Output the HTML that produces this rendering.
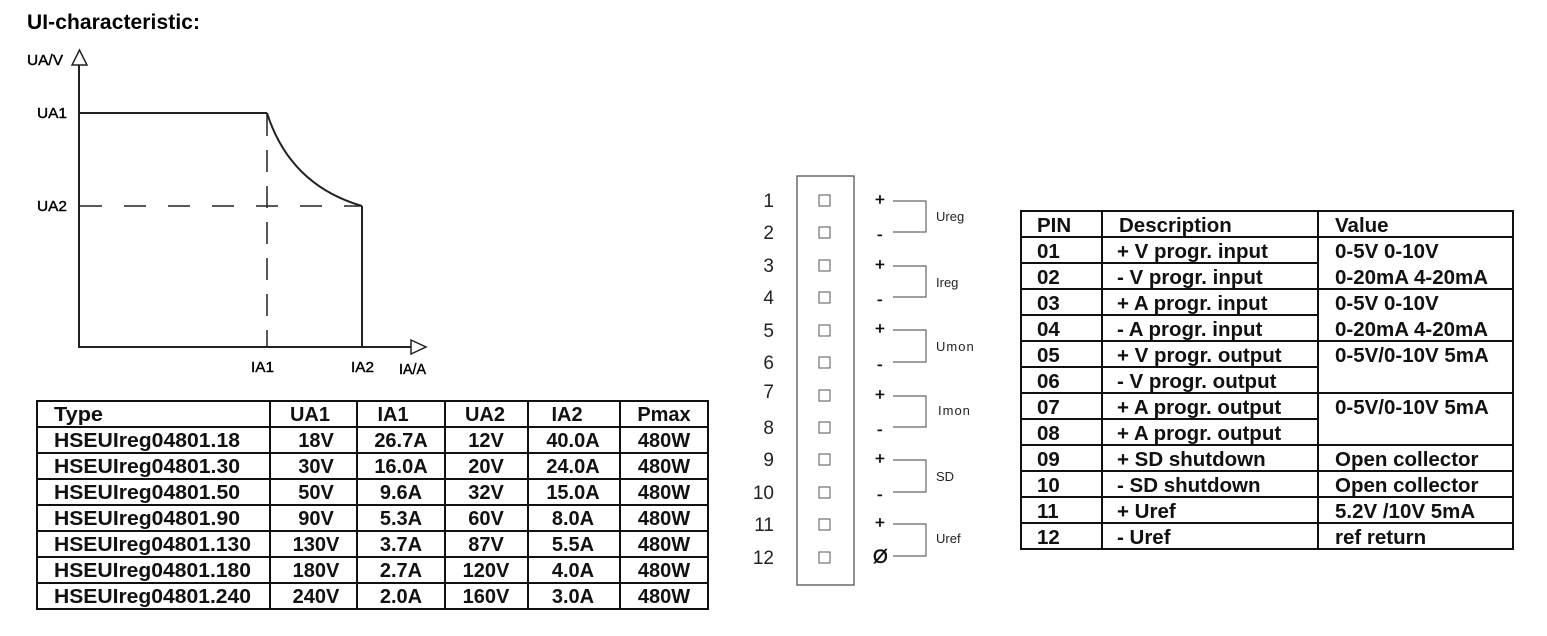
<!DOCTYPE html>
<html><head><meta charset="utf-8"><style>
html,body{margin:0;padding:0;background:#fff;}
svg{display:block;font-family:"Liberation Sans",Arial,sans-serif;}
.b{font-weight:bold;}
</style></head><body>
<svg width="1547" height="636" viewBox="0 0 1547 636" xmlns="http://www.w3.org/2000/svg" xml:space="preserve">
<text x="27" y="29" class="b" font-size="21" textLength="173">UI-characteristic:</text>

<!-- chart -->
<g stroke="#222" stroke-width="2" fill="none">
<line x1="79" y1="64" x2="79" y2="348"/>
<polygon points="72,65 87,65 79.5,50" fill="#fff" stroke-width="1.5"/>
<line x1="78" y1="347" x2="411" y2="347"/>
<polygon points="411,340 411,354 426,347" fill="#fff" stroke-width="1.5"/>
<line x1="79" y1="113" x2="267" y2="113"/>
<path d="M267,113 Q290,185 362,206"/>
<line x1="362" y1="206" x2="362" y2="347"/>
<line x1="80" y1="206" x2="362" y2="206" stroke-dasharray="22,22" stroke-width="1.5"/>
<line x1="267" y1="114" x2="267" y2="347" stroke-dasharray="22,14" stroke-width="1.5"/>
</g>
<g font-size="15" fill="#000" stroke="#000" stroke-width="0.4">
<text x="27" y="65" textLength="36" lengthAdjust="spacingAndGlyphs">UA/V</text>
<text x="37" y="118" textLength="30" lengthAdjust="spacingAndGlyphs">UA1</text>
<text x="37" y="211" textLength="30" lengthAdjust="spacingAndGlyphs">UA2</text>
<text x="251" y="372" textLength="23" lengthAdjust="spacingAndGlyphs">IA1</text>
<text x="351" y="372" textLength="23" lengthAdjust="spacingAndGlyphs">IA2</text>
<text x="399" y="374" textLength="27" lengthAdjust="spacingAndGlyphs">IA/A</text>
</g>

<!-- type table -->
<g stroke="#111" stroke-width="2" fill="none">
<rect x="37" y="401" width="671" height="208"/>
<line x1="270" y1="401" x2="270" y2="609"/>
<line x1="357" y1="401" x2="357" y2="609"/>
<line x1="445" y1="401" x2="445" y2="609"/>
<line x1="528" y1="401" x2="528" y2="609"/>
<line x1="620" y1="401" x2="620" y2="609"/>
<line x1="37" y1="427" x2="708" y2="427"/>
<line x1="37" y1="453" x2="708" y2="453"/>
<line x1="37" y1="479" x2="708" y2="479"/>
<line x1="37" y1="505" x2="708" y2="505"/>
<line x1="37" y1="531" x2="708" y2="531"/>
<line x1="37" y1="557" x2="708" y2="557"/>
<line x1="37" y1="583" x2="708" y2="583"/>
</g>
<g class="b" font-size="20" fill="#111">
<text x="54" y="421" textLength="49" lengthAdjust="spacingAndGlyphs">Type</text>
<text x="54" y="447" textLength="186" lengthAdjust="spacingAndGlyphs">HSEUIreg04801.18</text>
<text x="54" y="473" textLength="186" lengthAdjust="spacingAndGlyphs">HSEUIreg04801.30</text>
<text x="54" y="499" textLength="186" lengthAdjust="spacingAndGlyphs">HSEUIreg04801.50</text>
<text x="54" y="525" textLength="186" lengthAdjust="spacingAndGlyphs">HSEUIreg04801.90</text>
<text x="54" y="551" textLength="197" lengthAdjust="spacingAndGlyphs">HSEUIreg04801.130</text>
<text x="54" y="577" textLength="197" lengthAdjust="spacingAndGlyphs">HSEUIreg04801.180</text>
<text x="54" y="603" textLength="197" lengthAdjust="spacingAndGlyphs">HSEUIreg04801.240</text>
</g>
<g class="b" font-size="20" fill="#111" text-anchor="middle">
<text x="310" y="421">UA1</text><text x="393" y="421" >IA1</text><text x="485" y="421">UA2</text><text x="567" y="421">IA2</text><text x="664" y="421">Pmax</text>
<text x="316" y="447">18V</text><text x="401" y="447">26.7A</text><text x="486" y="447">12V</text><text x="573" y="447">40.0A</text><text x="664" y="447">480W</text>
<text x="316" y="473">30V</text><text x="401" y="473">16.0A</text><text x="486" y="473">20V</text><text x="573" y="473">24.0A</text><text x="664" y="473">480W</text>
<text x="316" y="499">50V</text><text x="401" y="499">9.6A</text><text x="486" y="499">32V</text><text x="573" y="499">15.0A</text><text x="664" y="499">480W</text>
<text x="316" y="525">90V</text><text x="401" y="525">5.3A</text><text x="486" y="525">60V</text><text x="573" y="525">8.0A</text><text x="664" y="525">480W</text>
<text x="316" y="551">130V</text><text x="401" y="551">3.7A</text><text x="486" y="551">87V</text><text x="573" y="551">5.5A</text><text x="664" y="551">480W</text>
<text x="316" y="577">180V</text><text x="401" y="577">2.7A</text><text x="486" y="577">120V</text><text x="573" y="577">4.0A</text><text x="664" y="577">480W</text>
<text x="316" y="603">240V</text><text x="401" y="603">2.0A</text><text x="486" y="603">160V</text><text x="573" y="603">3.0A</text><text x="664" y="603">480W</text>
</g>

<!-- connector -->
<rect x="797" y="176" width="57" height="409" fill="none" stroke="#555" stroke-width="1.3"/>
<g fill="none" stroke="#555" stroke-width="1">
<rect x="819" y="195" width="11" height="11"/><rect x="819" y="227" width="11" height="11"/>
<rect x="819" y="260" width="11" height="11"/><rect x="819" y="292" width="11" height="11"/>
<rect x="819" y="325" width="11" height="11"/><rect x="819" y="357" width="11" height="11"/>
<rect x="819" y="390" width="11" height="11"/><rect x="819" y="422" width="11" height="11"/>
<rect x="819" y="454" width="11" height="11"/><rect x="819" y="487" width="11" height="11"/>
<rect x="819" y="519" width="11" height="11"/><rect x="819" y="552" width="11" height="11"/>
</g>
<g font-size="19" fill="#222" text-anchor="end">
<text x="774" y="207">1</text><text x="774" y="239">2</text><text x="774" y="272">3</text><text x="774" y="304">4</text>
<text x="774" y="337">5</text><text x="774" y="369">6</text><text x="774" y="398">7</text><text x="774" y="434">8</text>
<text x="774" y="466">9</text><text x="774" y="499">10</text><text x="774" y="531">11</text><text x="774" y="564">12</text>
</g>
<g fill="none" stroke="#666" stroke-width="1.2">
<polyline points="893,201 926,201 926,232 893,232"/>
<polyline points="893,266 926,266 926,297 893,297"/>
<polyline points="893,330 926,330 926,362 893,362"/>
<polyline points="893,396 926,396 926,427 893,427"/>
<polyline points="893,460 926,460 926,492 893,492"/>
<polyline points="893,524 926,524 926,556 893,556"/>
</g>
<g font-size="17" fill="#111" stroke="#111" stroke-width="0.5">
<text x="875" y="205">+</text><text x="877" y="240">-</text>
<text x="875" y="270">+</text><text x="877" y="305">-</text>
<text x="875" y="334">+</text><text x="877" y="370">-</text>
<text x="875" y="400">+</text><text x="877" y="435">-</text>
<text x="875" y="464">+</text><text x="877" y="500">-</text>
<text x="875" y="528">+</text><text x="873" y="563" font-size="19">Ø</text>
</g>
<g font-size="13" fill="#222">
<text x="936" y="221">Ureg</text>
<text x="936" y="287">Ireg</text>
<text x="936" y="351" letter-spacing="1">Umon</text>
<text x="938" y="415" letter-spacing="1">Imon</text>
<text x="936" y="481">SD</text>
<text x="936" y="543">Uref</text>
</g>

<!-- pin table -->
<g stroke="#111" stroke-width="2" fill="none">
<rect x="1021" y="211" width="492" height="338"/>
<line x1="1102" y1="211" x2="1102" y2="549"/>
<line x1="1318" y1="211" x2="1318" y2="549"/>
<line x1="1021" y1="237" x2="1513" y2="237"/>
<line x1="1021" y1="263" x2="1318" y2="263"/>
<line x1="1021" y1="289" x2="1513" y2="289"/>
<line x1="1021" y1="315" x2="1318" y2="315"/>
<line x1="1021" y1="341" x2="1513" y2="341"/>
<line x1="1021" y1="367" x2="1318" y2="367"/>
<line x1="1021" y1="393" x2="1513" y2="393"/>
<line x1="1021" y1="419" x2="1318" y2="419"/>
<line x1="1021" y1="445" x2="1513" y2="445"/>
<line x1="1021" y1="471" x2="1513" y2="471"/>
<line x1="1021" y1="497" x2="1513" y2="497"/>
<line x1="1021" y1="523" x2="1513" y2="523"/>
</g>
<g class="b" font-size="20.5" fill="#111">
<text x="1037" y="232">PIN</text><text x="1119" y="232">Description</text><text x="1335" y="232">Value</text>
<text x="1037" y="258">01</text><text x="1117" y="258">+ V progr. input</text><text x="1335" y="258">0-5V 0-10V</text>
<text x="1037" y="284">02</text><text x="1117" y="284">-  V progr. input</text><text x="1335" y="284">0-20mA 4-20mA</text>
<text x="1037" y="310">03</text><text x="1117" y="310">+ A progr. input</text><text x="1335" y="310">0-5V 0-10V</text>
<text x="1037" y="336">04</text><text x="1117" y="336">-  A progr. input</text><text x="1335" y="336">0-20mA 4-20mA</text>
<text x="1037" y="362">05</text><text x="1117" y="362">+ V progr. output</text><text x="1335" y="362">0-5V/0-10V 5mA</text>
<text x="1037" y="388">06</text><text x="1117" y="388">-  V progr. output</text>
<text x="1037" y="414">07</text><text x="1117" y="414">+ A progr. output</text><text x="1335" y="414">0-5V/0-10V 5mA</text>
<text x="1037" y="440">08</text><text x="1117" y="440">+ A progr. output</text>
<text x="1037" y="466">09</text><text x="1117" y="466">+ SD shutdown</text><text x="1335" y="466">Open collector</text>
<text x="1037" y="492">10</text><text x="1117" y="492">-  SD shutdown</text><text x="1335" y="492">Open collector</text>
<text x="1037" y="518">11</text><text x="1117" y="518">+ Uref</text><text x="1335" y="518">5.2V /10V 5mA</text>
<text x="1037" y="544">12</text><text x="1117" y="544">-  Uref</text><text x="1335" y="544">ref return</text>
</g>
</svg>
</body></html>
